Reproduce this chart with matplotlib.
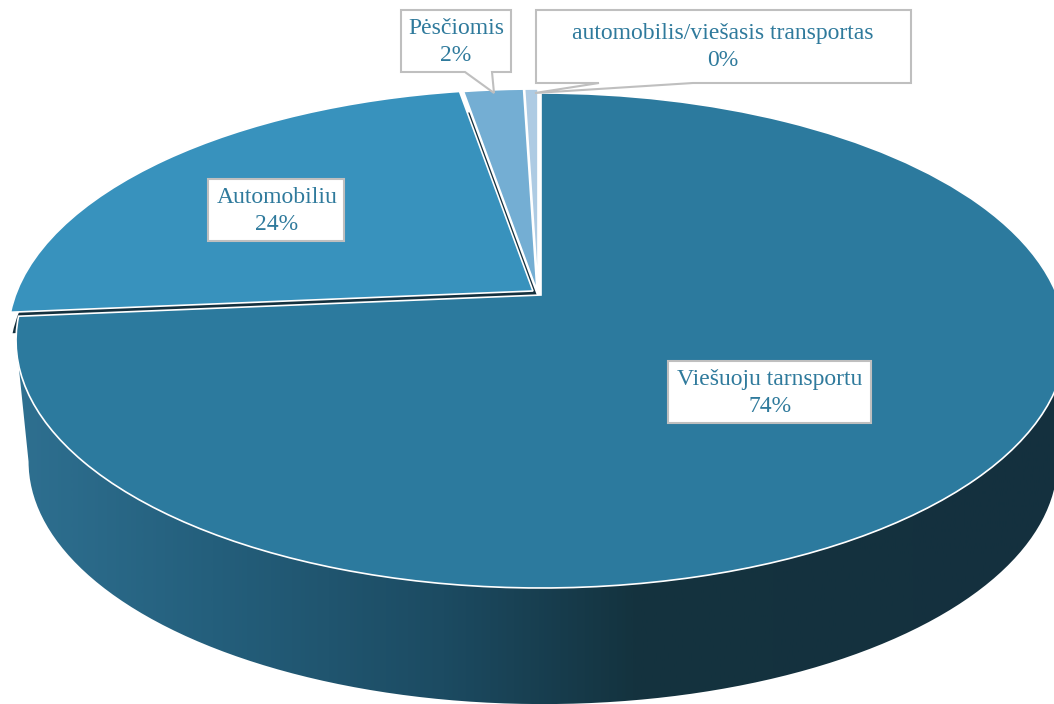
import numpy as np
import matplotlib
matplotlib.use("Agg")
import matplotlib.pyplot as plt
from matplotlib.colors import LinearSegmentedColormap
from matplotlib.patches import PathPatch, Polygon
from matplotlib.path import Path
from matplotlib.transforms import Affine2D, Transform

categories = ["Viešuoju tarnsportu", "Automobiliu", "Pėsčiomis", "automobilis/viešasis transportas"]
shares = [73.6, 23.7, 2.2, 0.49]

SLICE_COLORS = ["#2c7a9e", "#3892bd", "#74aed3", "#aecbe3"]
TEXT_COLOR = "#2f7a9c"
BOX_EDGE = "#bfbfbf"
WALL_STOPS = [(0.0, "#2f7192"), (0.2, "#245f7c"), (0.42, "#1c4b62"), (0.6, "#14333f"), (1.0, "#14303e")]


class TiltedDisc(Transform):
    # unit circle -> picture pixels, with the near side bigger
    input_dims = 2
    output_dims = 2

    def __init__(self, cx=540, cy=292, a=516, b=239.1, k=0.1838):
        super().__init__()
        self.cx, self.cy, self.a, self.b, self.k = cx, cy, a, b, k

    def transform_non_affine(self, values):
        values = np.asarray(values)
        q = 1 + self.k * values[:, 1]
        return np.column_stack((self.cx + self.a * values[:, 0] / q,
                                self.cy - self.b * values[:, 1] / q))


fig = plt.figure(figsize=(10.54, 7.04), dpi=100)
ax = fig.add_axes([0, 0, 1, 1])

disc = TiltedDisc()
floor = Affine2D().translate(-540, -292).scale(0.98).translate(543, 292 + 125)

# side wall with left to right shading, clipped to the swept outline
cmap = LinearSegmentedColormap.from_list("wall", WALL_STOPS)
theta = np.radians(np.linspace(190.6, 349.4, 200))
rim = disc.transform_non_affine(np.column_stack((np.cos(theta), np.sin(theta))))
rim = rim + [1, 3]
outline = np.vstack((rim, floor.transform(rim - [1, 3])[::-1]))
shade = ax.imshow(np.linspace(0, 1, 512).reshape(1, -1), cmap=cmap, aspect="auto",
                  extent=(0, 1054, 704, 0), zorder=1)
wall = PathPatch(Path(outline), facecolor="none", edgecolor="none", transform=ax.transData)
ax.add_patch(wall)
shade.set_clip_path(wall)

# dark cut faces behind the second slice: left corner and the gap on its right
for shift in [(-5, 20), (3, 20)]:
    back, _ = ax.pie(shares, startangle=90, counterclock=False, colors=["#14303e"] * 4,
                     wedgeprops=dict(linewidth=0))
    for i, w in enumerate(back):
        w.set_transform(disc + Affine2D().translate(*shift) + ax.transData)
        w.set_zorder(2)
        w.set_visible(i == 1)

wedges, _ = ax.pie(shares, startangle=90, counterclock=False, colors=SLICE_COLORS,
                   wedgeprops=dict(edgecolor="white", linewidth=1.2))
offsets = [(1, 3), (-7, -1), (-3, -1), (-2, -1)]
orders = [5, 3, 4, 4]
for w, off, z in zip(wedges, offsets, orders):
    w.set_transform(disc + Affine2D().translate(*off) + ax.transData)
    w.set_zorder(z)

ax.set_aspect("auto")
ax.set_xlim(0, 1054)
ax.set_ylim(704, 0)
ax.axis("off")

# label callouts, order follows categories
boxes = [
    [(668, 361), (871, 361), (871, 423), (668, 423)],
    [(208, 179), (344, 179), (344, 241), (208, 241)],
    [(401, 10), (511, 10), (511, 72), (492, 72), (494, 93), (465, 72), (401, 72)],
    [(536, 10), (911, 10), (911, 83), (693, 83), (535, 93), (599, 83), (536, 83)],
]
centers = [(770, 393), (277, 211), (456, 42), (723, 47)]

for name, share, box, (tx, ty) in zip(categories, shares, boxes, centers):
    ax.add_patch(Polygon(box, closed=True, facecolor="white", edgecolor=BOX_EDGE,
                         linewidth=1.5, zorder=6))
    ax.text(tx, ty, f"{name}\n{share:.0f}%", ha="center", va="center", color=TEXT_COLOR,
            family="Liberation Serif", fontsize=17, linespacing=1.4, zorder=7)

fig.savefig("out.png", dpi=100)
